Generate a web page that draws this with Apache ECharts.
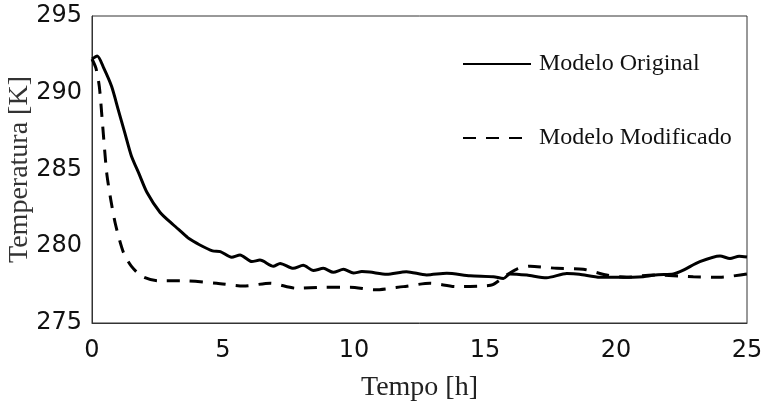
<!DOCTYPE html>
<html>
<head>
<meta charset="utf-8">
<script src="https://cdn.jsdelivr.net/npm/echarts@6/dist/echarts.min.js"></script>
<style>
  html, body { margin: 0; padding: 0; background: #fff; }
  #chart { width: 766px; height: 406px; }
</style>
</head>
<body>
<div id="chart"></div>
<script>
// Time axis [h] and temperatures [K] for both models
const tempoOriginal = [0, 0.2, 0.45, 0.75, 1.0, 1.25, 1.5, 1.8, 2.1, 2.6, 3.1, 3.4, 3.7, 4.1, 4.6, 4.9, 5.33, 5.65, 6.1, 6.41, 6.92, 7.18, 7.68, 8.06, 8.45, 8.83, 9.21, 9.6, 9.98, 10.3, 10.6, 11.25, 12.0, 12.77, 13.54, 14.43, 15.32, 15.7, 15.95, 16.6, 17.35, 18.12, 18.6, 19.39, 20.15, 21.04, 21.6, 22.19, 22.57, 23.2, 23.97, 24.35, 24.7, 25.0];
const tempOriginal = [292.2, 292.4, 291.6, 290.4, 288.9, 287.4, 285.9, 284.7, 283.5, 282.2, 281.4, 280.95, 280.5, 280.1, 279.7, 279.65, 279.28, 279.43, 279.0, 279.1, 278.7, 278.88, 278.56, 278.76, 278.42, 278.56, 278.3, 278.5, 278.25, 278.35, 278.32, 278.17, 278.34, 278.13, 278.24, 278.08, 278.02, 277.9, 278.2, 278.12, 277.95, 278.22, 278.18, 277.98, 277.98, 278.02, 278.15, 278.2, 278.45, 279.0, 279.37, 279.2, 279.35, 279.3];

const tempoModificado = [0, 0.15, 0.28, 0.41, 0.56, 0.72, 0.9, 1.2, 1.5, 1.9, 2.5, 3.6, 4.76, 5.78, 6.8, 7.81, 8.83, 9.85, 10.8, 11.88, 12.9, 13.92, 14.94, 15.3, 15.76, 16.2, 16.72, 17.74, 18.75, 19.64, 20.4, 21.42, 22.95, 23.97, 25.0];
const tempModificado = [292.2, 291.6, 290.4, 287.8, 284.8, 283.0, 281.4, 279.6, 278.7, 278.05, 277.75, 277.74, 277.59, 277.41, 277.59, 277.26, 277.33, 277.33, 277.16, 277.37, 277.59, 277.37, 277.41, 277.5, 278.05, 278.5, 278.7, 278.56, 278.5, 278.13, 277.98, 278.13, 278.02, 277.98, 278.2];

const xTicks = { min: 0, max: 25, interval: 5 };
const yTicks = { min: 275, max: 295, interval: 5 };

const nomes = ['Modelo Original', 'Modelo Modificado'];

const pares = (xs, ys) => xs.map((x, i) => [x, ys[i]]);

const chart = echarts.init(document.getElementById('chart'), null, { renderer: 'canvas' });

const tickFont = { fontFamily: 'DejaVu Sans', fontSize: 24, color: '#111' };
const serif = 'Liberation Serif';

chart.setOption({
  animation: false,
  backgroundColor: '#fff',
  grid: {
    left: 92, right: 19, top: 16, bottom: 83,
    outerBoundsMode: 'none',
    show: true, borderColor: '#333', borderWidth: 1, backgroundColor: 'transparent'
  },
  legend: {
    data: nomes,
    orient: 'vertical',
    left: 457,
    top: 47,
    itemWidth: 68,
    itemHeight: 14,
    itemGap: 50,
    itemStyle: { opacity: 0 },
    textStyle: { fontFamily: serif, fontSize: 24, color: '#111', lineHeight: 24, padding: [0, 0, 0, 3] }
  },
  xAxis: {
    type: 'value',
    min: xTicks.min, max: xTicks.max, interval: xTicks.interval,
    name: 'Tempo [h]',
    nameLocation: 'middle',
    nameGap: 51,
    nameMoveOverlap: false,
    nameTextStyle: { fontFamily: serif, fontSize: 28, color: '#222' },
    axisLine: { show: true, lineStyle: { color: '#333', width: 1 } },
    axisTick: { show: false },
    splitLine: { show: false },
    axisLabel: Object.assign({ margin: 16 }, tickFont)
  },
  yAxis: {
    type: 'value',
    min: yTicks.min, max: yTicks.max, interval: yTicks.interval,
    name: 'Temperatura [K]',
    nameLocation: 'middle',
    nameGap: 58,
    nameMoveOverlap: false,
    nameTextStyle: { fontFamily: serif, fontSize: 28, color: '#333' },
    axisLine: { show: true, lineStyle: { color: '#333', width: 1 } },
    axisTick: { show: false },
    splitLine: { show: false },
    axisLabel: Object.assign({ margin: 10 }, tickFont)
  },
  series: [
    {
      name: nomes[0],
      type: 'line',
      data: pares(tempoOriginal, tempOriginal),
      symbol: 'none',
      smooth: 0.25,
      lineStyle: { color: '#000', width: 3 },
      itemStyle: { color: '#000' }
    },
    {
      name: nomes[1],
      type: 'line',
      data: pares(tempoModificado, tempModificado),
      symbol: 'none',
      smooth: 0.25,
      lineStyle: { color: '#000', width: 3, type: [13, 10] },
      itemStyle: { color: '#000' }
    }
  ]
});
</script>
</body>
</html>
